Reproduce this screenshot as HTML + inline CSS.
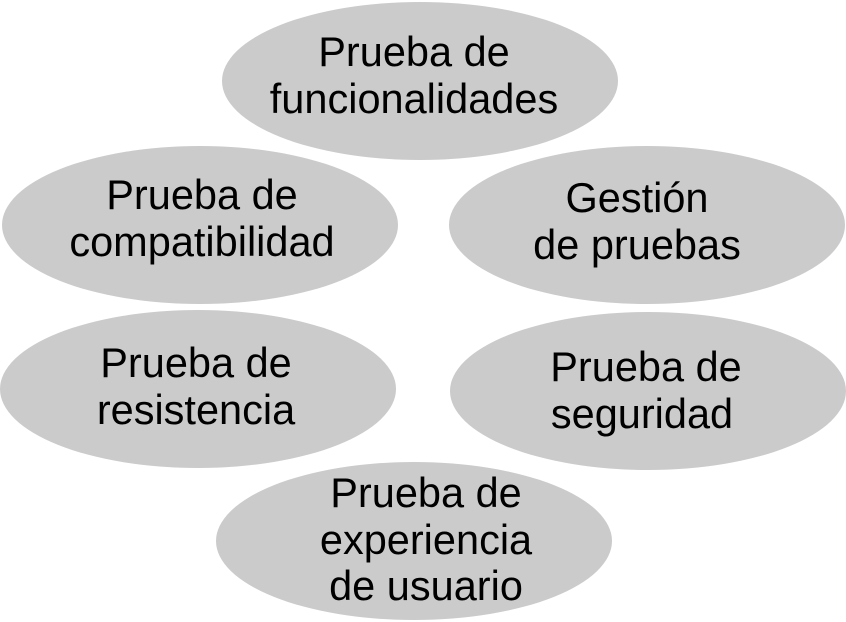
<!DOCTYPE html>
<html><head><style>body{margin:0;background:#fff}svg{display:block}</style></head>
<body>
<svg width="846" height="622" xmlns="http://www.w3.org/2000/svg" font-family="Liberation Sans, Arial, sans-serif" font-size="41.5" text-anchor="middle" fill="#000">
<g fill="#cbcbcb">
<ellipse cx="420" cy="81" rx="198" ry="79"/>
<ellipse cx="200" cy="225" rx="198" ry="79"/>
<ellipse cx="647" cy="225" rx="198" ry="79"/>
<ellipse cx="198" cy="389" rx="198" ry="79"/>
<ellipse cx="648" cy="391" rx="198" ry="79"/>
<ellipse cx="414" cy="541" rx="198" ry="79"/>
</g>
<text x="414" y="66">Prueba de</text>
<text x="414" y="113">funcionalidades</text>
<text x="202" y="209">Prueba de</text>
<text x="202" y="256">compatibilidad</text>
<text x="637" y="212">Gestión</text>
<text x="637" y="259">de pruebas</text>
<text x="196" y="377">Prueba de</text>
<text x="196" y="424">resistencia</text>
<text x="646" y="381">Prueba de</text>
<text x="642" y="428">seguridad</text>
<text x="426" y="507">Prueba de</text>
<text x="426" y="554">experiencia</text>
<text x="426" y="600">de usuario</text>
</svg>
</body></html>
